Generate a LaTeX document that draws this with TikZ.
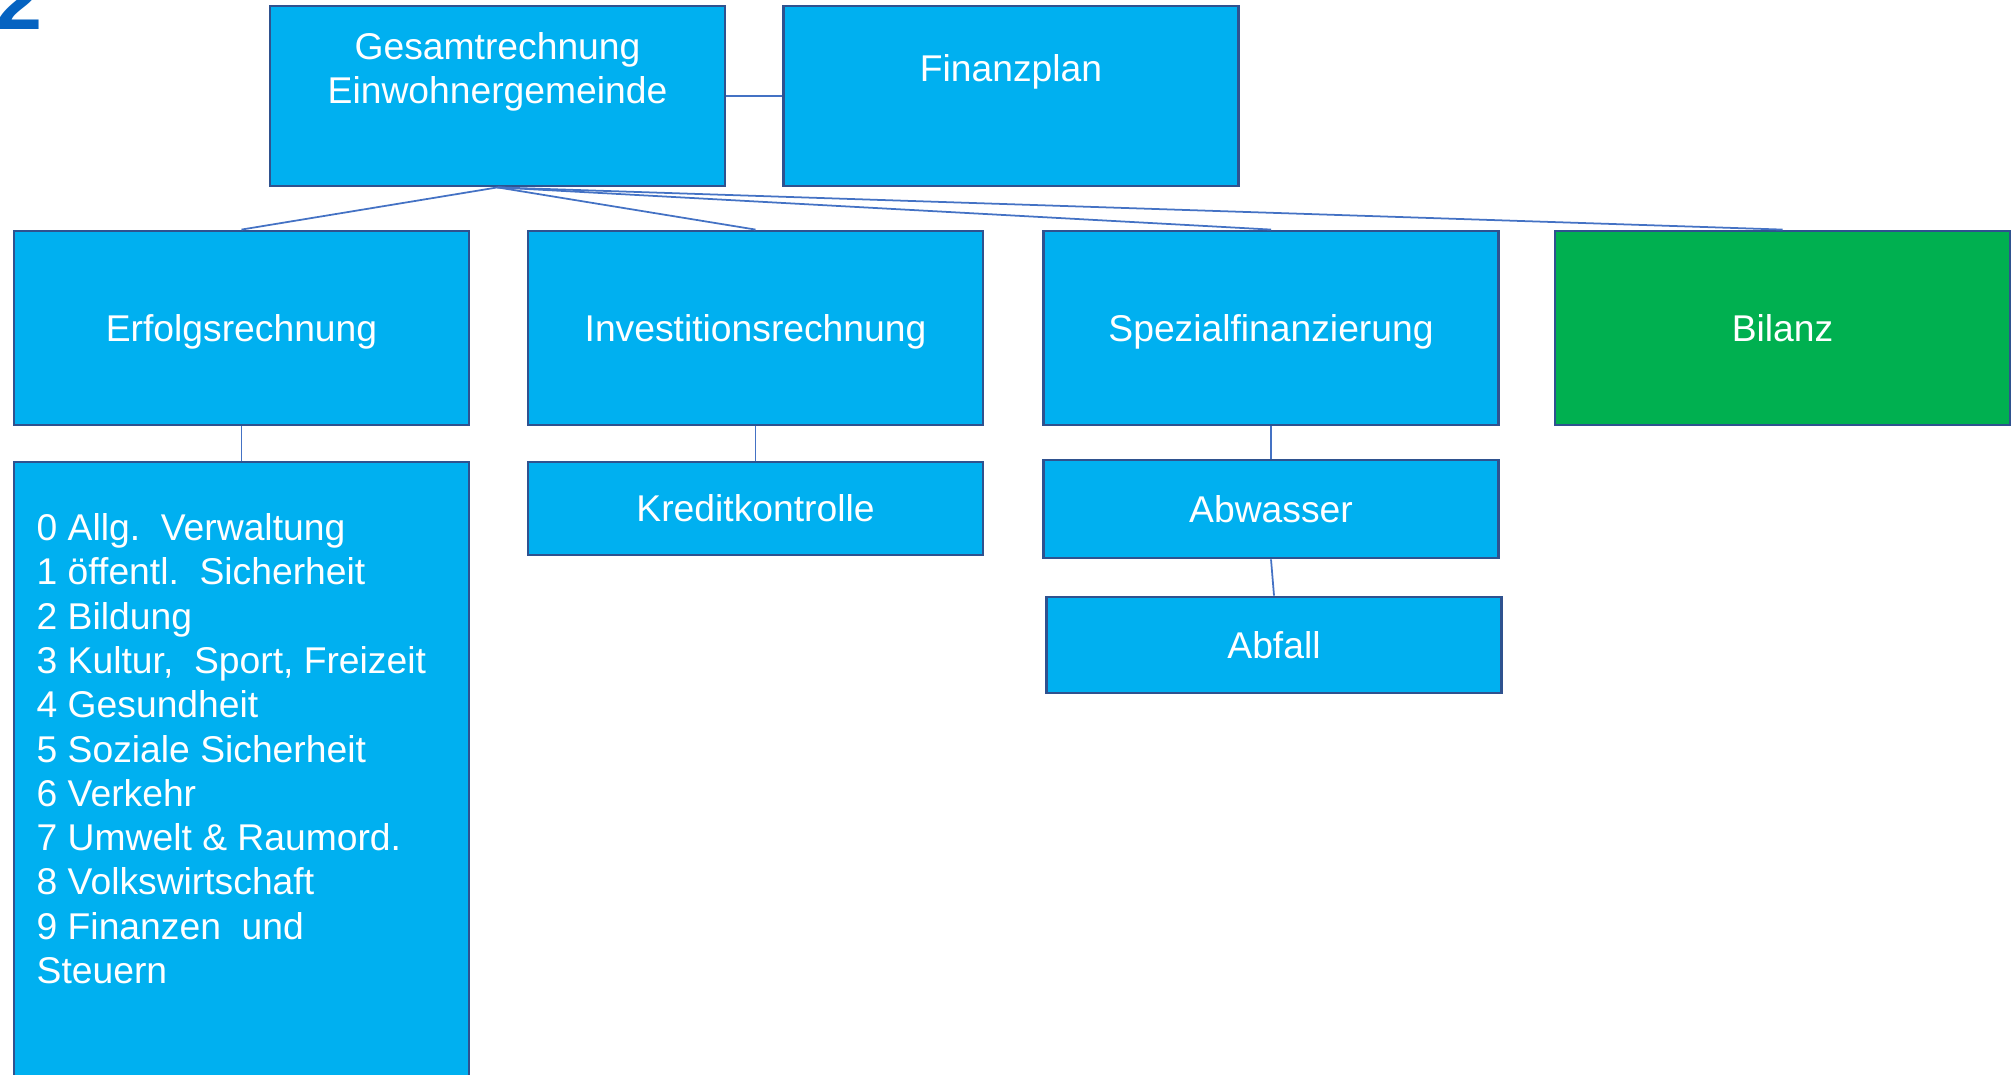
\documentclass[tikz,border=0pt]{standalone}
\usepackage{fontspec}
\setmainfont{Liberation Sans}
\usepackage{xcolor}
\definecolor{boxfill}{HTML}{00B0F0}
\definecolor{boxline}{HTML}{2F528F}
\definecolor{linkline}{HTML}{4472C4}
\definecolor{bilanzgreen}{HTML}{00B050}
\definecolor{pagemark}{HTML}{0563C1}

\tikzset{
	box/.style={draw=boxline, line width=0.8pt, fill=boxfill, text=white, inner sep=0pt,
		minimum width=4.55cm, text depth=0pt, font=\fontsize{10.6}{12.6}\selectfont},
	boxtext/.style={text=white, inner sep=0pt, align=center, font=\fontsize{10.6}{12.6}\selectfont},
	link/.style={draw=linkline, line width=0.5pt},
}

\begin{document}
\begin{tikzpicture}
	\useasboundingbox (0,0) rectangle (20.13,-10.75);
	\node[anchor=base west, inner sep=0pt, text=pagemark, font=\fontsize{24}{24}\selectfont\bfseries] (pagenum) at (-0.05,-0.30) {2};

	% top row
	\node[box, minimum height=1.80cm] (gesamt) at (4.975,-0.96) {};
	\node[boxtext] (gesamttext) at (4.975,-0.72) {Gesamtrechnung\\Einwohnergemeinde};
	\node[box, minimum height=1.80cm] (finanz) at (10.11,-0.96) {};
	\node[boxtext] (finanztext) at (10.11,-0.72) {Finanzplan};

	% second row
	\node[box, minimum height=1.94cm] (erfolg) at (2.415,-3.28) {Erfolgsrechnung};
	\node[box, minimum height=1.94cm] (invest) at (7.555,-3.28) {Investitionsrechnung};
	\node[box, minimum height=1.94cm] (spezial) at (12.71,-3.28) {Spezialfinanzierung};
	\node[box, minimum height=1.94cm, fill=bilanzgreen] (bilanz) at (17.825,-3.28) {Bilanz};

	% third row
	\node[box, minimum height=6.30cm] (liste) at (2.415,-7.77) {};
	\node[boxtext, align=left, anchor=north west] (listetext) at (0.36,-5.13) {0 Allg.\ \ Verwaltung\\1 öffentl.\ \ Sicherheit\\2 Bildung\\3 Kultur,\ \ Sport, Freizeit\\4 Gesundheit\\5 Soziale Sicherheit\\6 Verkehr\\7 Umwelt \& Raumord.\\8 Volkswirtschaft\\9 Finanzen\ \ und\\Steuern};
	\node[box, minimum height=0.93cm] (kredit) at (7.555,-5.085) {Kreditkontrolle};
	\node[box, minimum height=0.98cm] (abwasser) at (12.71,-5.09) {Abwasser};
	\node[box, minimum height=0.96cm] (abfall) at (12.74,-6.45) {Abfall};

	\draw[link] (gesamt.east) -- (finanz.west);
	\foreach \n in {erfolg,invest,spezial,bilanz}{
		\draw[link] (gesamt.south) -- (\n.north);
	}
	\draw[link] (erfolg.south) -- (liste.north);
	\draw[link] (invest.south) -- (kredit.north);
	\draw[link] (spezial.south) -- (abwasser.north);
	\draw[link] (abwasser.south) -- (abfall.north);
\end{tikzpicture}
\end{document}
